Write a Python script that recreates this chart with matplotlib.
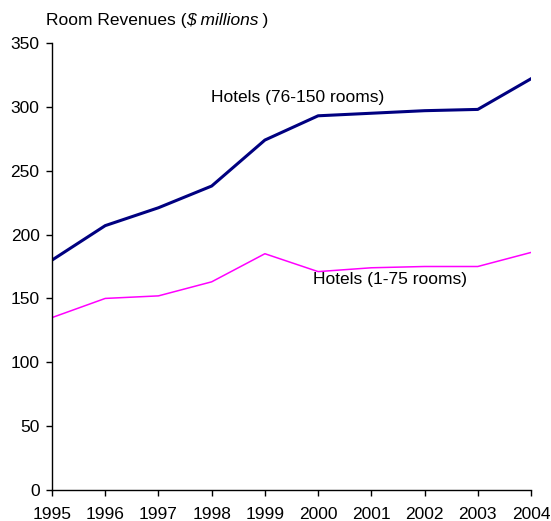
import matplotlib
matplotlib.use('Agg')
import matplotlib.pyplot as plt

plt.rcParams['font.family'] = ['Liberation Sans', 'DejaVu Sans']

years = [1995, 1996, 1997, 1998, 1999, 2000, 2001, 2002, 2003, 2004]
hotels_76_150 = [180, 207, 221, 238, 274, 293, 295, 297, 298, 322]
hotels_1_75 = [135, 150, 152, 163, 185, 171, 174, 175, 175, 186]
yticks = [0, 50, 100, 150, 200, 250, 300, 350]

fig = plt.figure(figsize=(5.51, 5.21), dpi=100)
ax = fig.add_axes([52/551, 1 - 490/521, 479/551, 447/521])

ax.plot(years, hotels_76_150, color='#000080', lw=2.2, solid_joinstyle='round')
ax.plot(years, hotels_1_75, color='#FF00FF', lw=1.1)

ax.set_xlim(years[0], years[-1])
ax.set_ylim(0, 350)
ax.set_xticks(years)
ax.set_yticks(yticks)
ax.tick_params(labelsize=12.5, length=4, width=1, color='black')
ax.tick_params(axis='x', pad=8)
ax.tick_params(axis='y', pad=5)
for s in ['top', 'right']:
    ax.spines[s].set_visible(False)
for s in ['left', 'bottom']:
    ax.spines[s].set_linewidth(1)

ax.text(1997.98, 307, 'Hotels (76-150 rooms)', fontsize=12.5, va='center')
ax.text(1999.9, 165, 'Hotels (1-75 rooms)', fontsize=12.5, va='center')

# title made of plain + italic pieces
renderer = fig.canvas.get_renderer()
x = 46 / 551
y = 1 - 20 / 521
for part, style in [('Room Revenues (', 'normal'), ('$ millions', 'italic'), ('\u2009)', 'normal')]:
    t = fig.text(x, y, part, fontsize=12.5, style=style, va='center')
    bb = t.get_window_extent(renderer)
    x += bb.width / fig.bbox.width

fig.savefig('out.png', dpi=100)
